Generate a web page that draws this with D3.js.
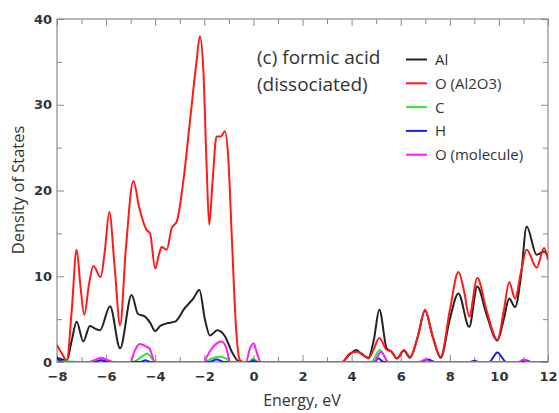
<!DOCTYPE html>
<html><head><meta charset="utf-8">
<script src="https://cdn.jsdelivr.net/npm/d3@7"></script>
<style>body{margin:0;background:#fff;}svg{display:block;}</style>
</head><body>
<svg id="chart" width="559" height="413"></svg>
<script>
// ---- Data ----
const xTicks = [-8,-6,-4,-2,0,2,4,6,8,10,12];
const yTicks = [0,10,20,30,40];
const seriesNames = ["Al","O (Al2O3)","C","H","O (molecule)"];
const seriesColors = ["#222222","#ff1a1a","#2ee82e","#1f1fe6","#ff1aff"];

const alE = [-8,-7.8,-7.6,-7.4,-7.2,-6.93,-6.66,-6.45,-6.25,-5.84,-5.43,-4.96,-4.7,-4.42,-4.21,-4.0,-3.8,-3.53,-3.19,-2.79,-2.45,-2.2,-1.97,-1.77,-1.47,-1.16,-0.88,-0.61,-0.4,3.6,3.93,4.2,4.41,4.68,4.9,5.13,5.43,5.63,5.84,6.13,6.38,6.7,6.99,7.3,7.63,8.0,8.35,8.79,9.12,9.5,9.94,10.2,10.42,10.66,10.9,11.13,11.54,11.84,12];
const alV = [0.5,0.3,0.2,2.5,4.7,2.4,4.2,3.9,3.7,6.5,1.6,7.8,5.6,5.3,4.6,3.6,4.2,4.5,4.7,6.3,7.4,8.4,4.9,3.1,3.7,3.0,1.2,0.1,0,0,0.9,1.4,0.9,0.5,2.5,6.1,1.6,1.2,0.4,1.3,0.5,3.0,6.0,3.0,0.5,5.0,8.0,4.1,8.8,5.5,2.5,5.0,7.4,6.4,10.0,15.8,12.5,12.9,12.3];

const oxE = [-8,-7.8,-7.6,-7.4,-7.2,-7.05,-6.89,-6.7,-6.52,-6.22,-6.05,-5.87,-5.65,-5.43,-5.2,-4.89,-4.65,-4.35,-4.21,-4.0,-3.85,-3.74,-3.53,-3.33,-3.12,-2.85,-2.58,-2.31,-2.18,-2.04,-1.9,-1.8,-1.66,-1.5,-1.33,-1.16,-1.02,-0.88,-0.71,-0.55,-0.4,3.6,3.93,4.2,4.41,4.68,4.9,5.13,5.43,5.63,5.84,6.13,6.38,6.7,6.99,7.3,7.63,8.0,8.35,8.6,8.79,9.12,9.5,9.94,10.2,10.42,10.66,10.9,11.13,11.54,11.84,12];
const oxV = [2.0,1.0,0.2,6.0,13.1,9.0,5.5,9.0,11.2,9.9,13.0,17.5,11.0,4.3,13.0,21.1,18.0,15.4,15.0,10.9,12.5,13.4,13.1,15.6,16.4,21.2,28.2,35.2,38.0,34.1,22.4,16.0,21.2,26.3,26.3,26.9,23.6,14.6,4.1,0.2,0,0,1.0,1.2,1.0,0.4,1.5,2.8,1.4,1.2,0.4,1.4,0.6,3.0,6.1,3.0,0.6,6.0,10.5,8.0,5.3,9.8,6.0,2.6,6.0,9.3,7.4,10.5,13.1,11.0,13.3,11.9];

const cE = [-8,-6.5,-6.2,-5.9,-4.9,-4.6,-4.32,-4.1,-3.9,-2,-1.7,-1.4,-1.1,-0.9,-0.2,0,0.2,4.8,5.15,5.5,6.7,7.0,7.3,12];
const cV = [0.1,0,0.2,0,0,0.5,1.0,0.3,0,0,0.4,0.6,0.4,0,0,0.4,0,0,1.4,0,0,0.2,0,0];

const hE = [-8,-7.7,-6.5,-6.2,-5.9,-4.6,-4.4,-4.2,-1.8,-1.5,-1.2,-0.1,0,0.1,4.9,5.1,5.3,6.8,7.1,7.4,8.8,9.0,9.2,9.6,9.94,10.3,10.9,11.1,11.3,12];
const hV = [0.4,0,0,0.2,0,0,0.2,0,0,0.3,0,0,0.2,0,0,0.4,0,0,0.3,0,0,0.15,0,0,1.1,0,0,0.2,0,0];

const omE = [-8,-6.7,-6.4,-6.2,-6.0,-5.7,-5.0,-4.85,-4.62,-4.37,-4.24,-4.0,-2.0,-1.9,-1.63,-1.29,-1.1,-0.95,-0.3,-0.15,0,0.15,0.3,4.9,5.2,5.5,6.8,7.0,7.2,10.8,11.0,11.2,12];
const omV = [0,0,0.3,0.5,0.3,0,0,1.2,2.1,1.8,1.6,0,0,0.6,1.8,2.4,1.6,0,0,1.5,2.2,1.0,0,0,1.2,0,0,0.3,0,0,0.3,0,0];

const seriesE = [alE, oxE, cE, hE, omE];
const seriesV = [alV, oxV, cV, hV, omV];

// ---- Layout ----
const W = 559, H = 413;
const m = {left:57, top:19, right:11, bottom:51};
const pw = W - m.left - m.right, ph = H - m.top - m.bottom;
const svg = d3.select("#chart");
const x = d3.scaleLinear().domain([-8,12]).range([m.left, m.left+pw]);
const y = d3.scaleLinear().domain([0,40]).range([m.top+ph, m.top]);

const frameCol = "#8a8a8a";
const tickFont = "DejaVu Sans, sans-serif";

svg.append("defs").append("clipPath").attr("id","clip")
  .append("rect").attr("x",m.left).attr("y",m.top).attr("width",pw).attr("height",ph);

function styleAxis(g){
  g.select(".domain").remove();
  g.selectAll(".tick line").attr("stroke",frameCol).attr("stroke-width",1);
  g.selectAll(".tick text").attr("fill","#333").attr("font-family",tickFont)
    .attr("font-size",13).attr("font-weight","bold");
}
const xMinor = d3.range(-7,12,2);
const yMinor = [5,15,25,35];
// bottom
svg.append("g").attr("transform",`translate(0,${m.top+ph})`)
  .call(d3.axisBottom(x).tickValues(xTicks).tickSize(-7).tickPadding(10).tickFormat(d3.format("d"))).call(styleAxis);
svg.append("g").attr("transform",`translate(0,${m.top+ph})`)
  .call(d3.axisBottom(x).tickValues(xMinor).tickSize(-5).tickFormat("")).call(styleAxis);
// top
svg.append("g").attr("transform",`translate(0,${m.top})`)
  .call(d3.axisTop(x).tickValues(xTicks).tickSize(-7).tickFormat("")).call(styleAxis);
svg.append("g").attr("transform",`translate(0,${m.top})`)
  .call(d3.axisTop(x).tickValues(xMinor).tickSize(-5).tickFormat("")).call(styleAxis);
// left
svg.append("g").attr("transform",`translate(${m.left},0)`)
  .call(d3.axisLeft(y).tickValues(yTicks).tickSize(-7).tickPadding(5).tickFormat(d3.format("d"))).call(styleAxis);
svg.append("g").attr("transform",`translate(${m.left},0)`)
  .call(d3.axisLeft(y).tickValues(yMinor).tickSize(-5).tickFormat("")).call(styleAxis);
// right
svg.append("g").attr("transform",`translate(${m.left+pw},0)`)
  .call(d3.axisRight(y).tickValues(yTicks).tickSize(-7).tickFormat("")).call(styleAxis);
svg.append("g").attr("transform",`translate(${m.left+pw},0)`)
  .call(d3.axisRight(y).tickValues(yMinor).tickSize(-5).tickFormat("")).call(styleAxis);

// frame
svg.append("rect").attr("x",m.left).attr("y",m.top).attr("width",pw).attr("height",ph)
  .attr("fill","none").attr("stroke",frameCol).attr("stroke-width",1.2);

// curves
const line = d3.line().x(d=>x(d[0])).y(d=>y(d[1])).curve(d3.curveMonotoneX);
const plot = svg.append("g").attr("clip-path","url(#clip)");
seriesE.forEach((E,i)=>{
  const pts = E.map((e,j)=>[e, seriesV[i][j]]);
  plot.append("path").datum(pts).attr("d",line)
    .attr("fill","none").attr("stroke",seriesColors[i]).attr("stroke-width",2)
    .attr("stroke-linejoin","round");
});

// axis titles
svg.append("text").attr("x", 302).attr("y", 406).attr("text-anchor","middle")
  .attr("font-family","Open Sans, sans-serif").attr("font-size",16).attr("fill","#333")
  .text("Energy, eV");
svg.append("text").attr("transform",`translate(24,190) rotate(-90)`)
  .attr("text-anchor","middle").attr("font-family","Open Sans, sans-serif")
  .attr("font-size",16.5).attr("fill","#333").text("Density of States");

// annotation
const ann = svg.append("text").attr("font-family","Open Sans, sans-serif").attr("font-size",19).attr("fill","#333");
ann.append("tspan").attr("x",257).attr("y",64).text("(c) formic acid");
ann.append("tspan").attr("x",257).attr("y",91).text("(dissociated)");

// legend
const lg = svg.append("g");
seriesNames.forEach((n,i)=>{
  const yy = 59.5 + i*23.8;
  lg.append("line").attr("x1",406).attr("x2",427).attr("y1",yy).attr("y2",yy)
    .attr("stroke",seriesColors[i]).attr("stroke-width",2);
  lg.append("text").attr("x",435).attr("y",yy+5.5).attr("font-family","Open Sans, sans-serif")
    .attr("font-size",15).attr("fill","#333").text(n);
});
</script>
</body></html>
